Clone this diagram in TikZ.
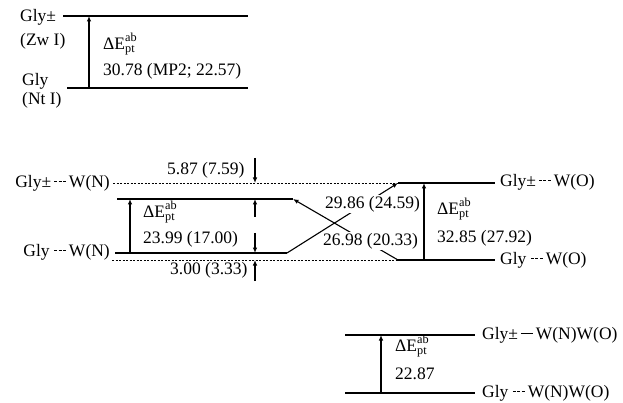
\documentclass[tikz,border=0pt]{standalone}
\usepackage{fontspec}
\setmainfont{Liberation Serif}
\usetikzlibrary{arrows.meta}
\newcommand{\hbd}{\raisebox{0.3em}{\rule{3pt}{0.7pt}\hspace{1.5pt}\rule{3pt}{0.7pt}\hspace{1.5pt}\rule{3pt}{0.7pt}}}
\newcommand{\hbs}{\raisebox{0.3em}{\rule{12pt}{0.7pt}}}
\newcommand{\dEab}{ΔE\rlap{\textsubscript{pt}}\raisebox{0.12em}{\textsuperscript{ab}}}
\begin{document}
\begin{tikzpicture}[x=1pt,y=-1pt,
  lvl/.style={line width=1.3pt},
  dsh/.style={line width=0.7pt, dash pattern=on 2pt off 1.5pt},
  arr/.style={line width=1.1pt,-{Latex[length=5.5pt,width=4.5pt]}},
  txt/.style={font=\fontsize{17.5}{19}\selectfont, inner sep=0pt, anchor=west},
  lab/.style={txt, fill=white, inner sep=1pt}]
\useasboundingbox[fill=white] (0,0) rectangle (623,403);
% ---------- top panel ----------
\coordinate (zwL) at (63,16);  \coordinate (zwR) at (248,16);
\coordinate (ntL) at (67,88);  \coordinate (ntR) at (248,88);
\coordinate (a1b) at (89,88);  \coordinate (a1t) at (89,16);
\draw[lvl] (zwL) -- (zwR);
\draw[lvl] (ntL) -- (ntR);
\draw[arr] (a1b) -- (a1t);
\node[txt] (zw1) at (20,17) {Gly±};
\node[txt] (zw2) at (20,41) {(Zw I)};
\node[txt] (nt1) at (22,81) {Gly};
\node[txt] (nt2) at (22,100) {(Nt I)};
\node[txt] (de1) at (103,44) {\dEab};
\node[txt] (v1) at (103,71) {30.78 (MP2; 22.57)};
% ---------- middle panel ----------
\coordinate (dTL) at (113,183); \coordinate (dTR) at (398,183);
\coordinate (oTL) at (398,183); \coordinate (oTR) at (495,183);
\coordinate (nTL) at (117,199); \coordinate (nTR) at (293,199);
\coordinate (nBL) at (115,253); \coordinate (nBR) at (287,253);
\coordinate (dBL) at (112,260); \coordinate (dBR) at (398,260);
\coordinate (oBR) at (495,260);
\draw[dsh] (dTL) -- (dTR);
\draw[dsh] (dBL) -- (dBR);
\draw[lvl] (oTL) -- (oTR);
\draw[lvl] (dBR) -- (oBR);
\draw[lvl] (nTL) -- (nTR);
\draw[lvl] (nBL) -- (nBR);
\draw[arr] (nBR) -- (oTL);
\draw[arr] (dBR) -- (nTR);
% vertical arrows
\coordinate (a2b) at (130,253); \coordinate (a2t) at (130,199);
\draw[arr] (a2b) -- (a2t);
\coordinate (a3b) at (424,260); \coordinate (a3t) at (424,183);
\draw[arr] (a3b) -- (a3t);
% dimension arrows
\coordinate (d1s) at (255,158); \coordinate (d1e) at (255,183);
\coordinate (d2s) at (255,217); \coordinate (d2e) at (255,199);
\coordinate (d3s) at (255,233); \coordinate (d3e) at (255,253);
\coordinate (d4s) at (255,281); \coordinate (d4e) at (255,260);
\draw[arr] (d1s) -- (d1e);
\draw[arr] (d2s) -- (d2e);
\draw[arr] (d3s) -- (d3e);
\draw[arr] (d4s) -- (d4e);
% labels
\node[txt, anchor=east] (gzn) at (110,183) {Gly±\,\hbd\,W(N)};
\node[txt, anchor=east] (gn) at (110,252) {Gly \hbd\,W(N)};
\node[txt, anchor=west] (gzo) at (500,182) {Gly±\,\hbd\,W(O)};
\node[txt, anchor=west] (go) at (500,260) {Gly \hbd\,W(O)};
\node[txt] (g1) at (167,170) {5.87 (7.59)};
\node[txt] (g2) at (170,270) {3.00 (3.33)};
\node[txt] (de2) at (143,212) {\dEab};
\node[txt] (v2) at (143,239) {23.99 (17.00)};
\node[txt] (de3) at (437,209) {\dEab};
\node[txt] (v3) at (437,238) {32.85 (27.92)};
\node[lab] (x1) at (324,204) {29.86 (24.59)};
\node[lab] (x2) at (322,241) {26.98 (20.33)};
% ---------- bottom panel ----------
\coordinate (wTL) at (345,335); \coordinate (wTR) at (475,335);
\coordinate (wBL) at (345,393); \coordinate (wBR) at (475,393);
\coordinate (a4b) at (381,393); \coordinate (a4t) at (381,335);
\draw[lvl] (wTL) -- (wTR);
\draw[lvl] (wBL) -- (wBR);
\draw[arr] (a4b) -- (a4t);
\node[txt] (gzw) at (482,335) {Gly±\,\hbs\,W(N)W(O)};
\node[txt] (gw) at (482,393) {Gly \hbd\,W(N)W(O)};
\node[txt] (de4) at (395,346) {\dEab};
\node[txt] (v4) at (395,374) {22.87};
\end{tikzpicture}
\end{document}
